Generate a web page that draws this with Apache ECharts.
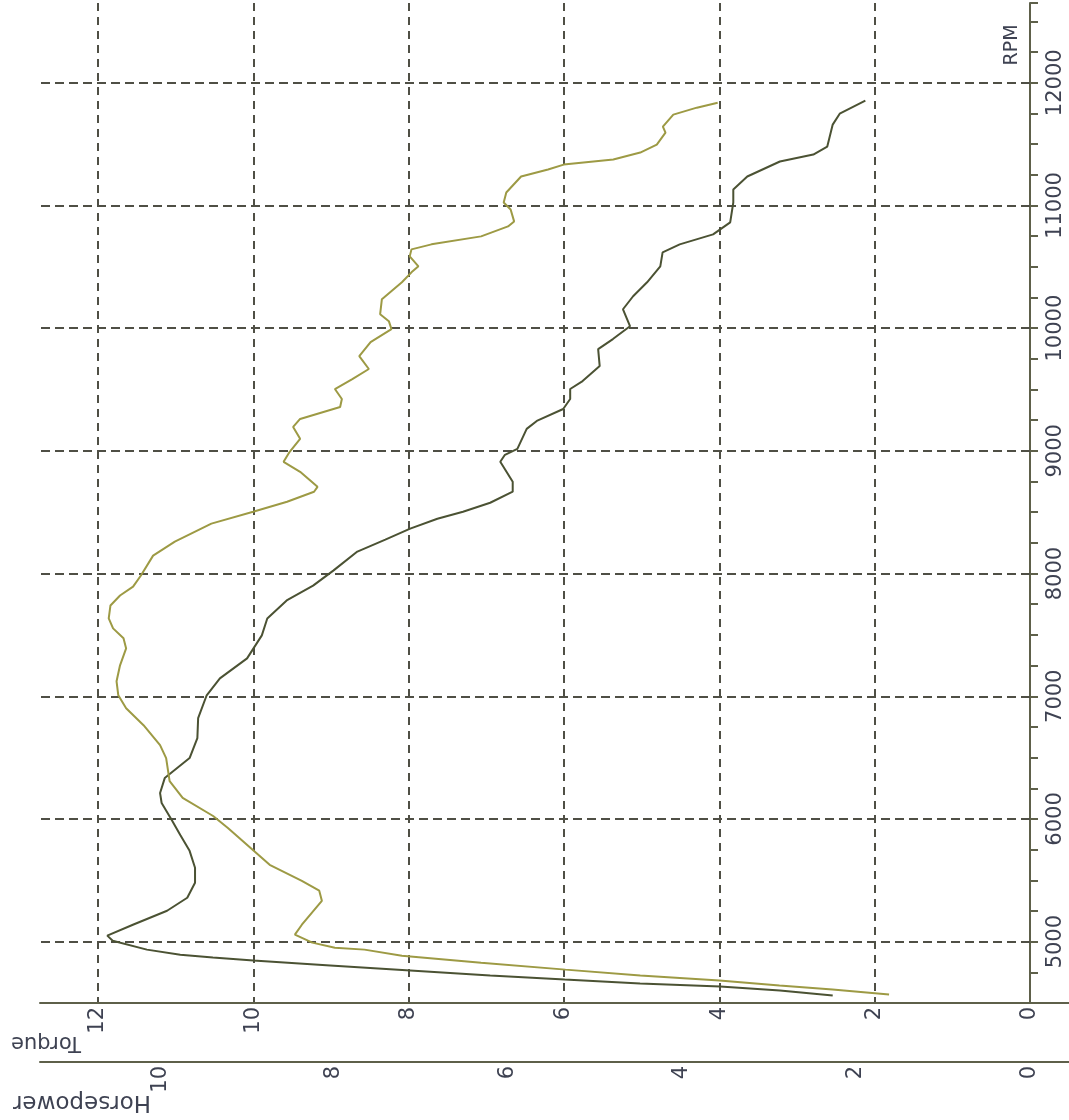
<!DOCTYPE html>
<html>
<head>
<meta charset="utf-8">
<script src="https://cdn.jsdelivr.net/npm/echarts@6/dist/echarts.min.js"></script>
<style>
html,body{margin:0;padding:0;background:#fff;}
#chart{width:1069px;height:1120px;}
</style>
</head>
<body>
<div id="chart"></div>
<script>
// ---- Data (read from the dyno sheet) ----
// Torque curve: [rpm, torque]
const torqueRpm = [4561,4602,4634,4659,4691,4724,4764,4805,4846,4870,4894,4935,5008,5049,
  5138,5252,5358,5480,5602,5740,5870,5992,6130,6211,6333,6496,6659,6821,7008,7146,7309,7496,7634,7781,7902,8024,
  8179,8276,8366,8447,8504,8577,8667,8748,8911,8968,9016,9179,9244,9341,9423,9504,9569,9691,9829,9911,10016,
  10154,10260,10374,10504,10618,10683,10764,10862,11024,11130,11236,11358,11415,11480,11659,11748,11854];
const torqueVal = [2.54,3.22,3.99,5.02,5.99,6.95,7.98,9.01,10.00,10.52,10.94,11.37,11.81,11.88,
  11.55,11.11,10.85,10.75,10.75,10.82,10.94,11.05,11.18,11.20,11.14,10.82,10.72,10.71,10.60,10.43,10.08,9.89,9.82,9.57,9.23,8.97,
  8.66,8.30,7.98,7.63,7.30,6.95,6.66,6.66,6.82,6.76,6.60,6.48,6.35,6.01,5.92,5.92,5.76,5.54,5.56,5.37,5.15,
  5.24,5.11,4.93,4.76,4.73,4.51,4.08,3.86,3.82,3.82,3.64,3.22,2.79,2.61,2.54,2.45,2.12];

// Horsepower curve: [rpm, hp]
const hpRpm = [4569,4610,4642,4683,4724,4772,4829,4886,4935,4951,4992,5057,5138,5333,5415,5496,5626,5927,6024,6171,
  6309,6496,6602,6764,6902,7008,7122,7252,7390,7472,7553,7634,7740,7821,7894,7984,8146,8260,8407,8504,8585,8667,
  8707,8829,8911,8992,9098,9195,9260,9358,9423,9504,9585,9667,9772,9886,9992,10057,10114,10236,10374,10455,10504,
  10585,10642,10683,10748,10829,10870,10967,11024,11106,11236,11293,11333,11374,11431,11496,11593,11642,11740,11797,11837];
const hpVal = [1.62,2.27,2.88,3.57,4.48,5.34,6.31,7.22,7.65,7.99,8.25,8.45,8.37,8.14,8.17,8.37,8.74,9.22,9.39,9.74,
  9.89,9.93,10.00,10.19,10.39,10.48,10.50,10.46,10.39,10.42,10.54,10.59,10.57,10.46,10.31,10.22,10.08,9.83,9.41,8.93,8.54,8.23,
  8.19,8.39,8.58,8.51,8.39,8.47,8.39,7.93,7.91,7.99,7.79,7.60,7.71,7.58,7.34,7.37,7.47,7.45,7.22,7.11,7.03,
  7.13,7.11,6.88,6.31,6.00,5.93,5.97,6.05,6.02,5.85,5.54,5.36,4.79,4.48,4.29,4.19,4.22,4.10,3.83,3.59];

// Axis ticks
const rpmGridLines = [5000,6000,7000,8000,9000,10000,11000,12000];
const rpmMin = 4500, rpmMax = 12650, rpmMinorStep = 250;
const torqueMax = 12.746, torqueStep = 2;
const hpMax = 11.38, hpStep = 2;

// ---- Chart ----
const gridColor = '#4f4f45';
const axisColor = '#5e604a';
const textColor = '#3e4252';
const darkCurve = '#4b5233';
const lightCurve = '#9d9a44';
const FONT = 'DejaVu Sans';

const intLabel = v => (Math.abs(v - Math.round(v)) < 1e-6 ? String(Math.round(v)) : '');

const chart = echarts.init(document.getElementById('chart'), null, {renderer:'canvas'});
chart.setOption({
  animation: false,
  backgroundColor: '#ffffff',
  grid: {left: 40, right: 39, top: 3, bottom: 117, containLabel: false},
  xAxis: [
    {
      type: 'value', inverse: true, min: 0, max: torqueMax, interval: torqueStep,
      position: 'bottom',
      axisLine: {show: true, onZero: false, lineStyle: {color: axisColor, width: 2}},
      axisTick: {show: false},
      axisLabel: {rotate: 90, margin: 4, color: textColor, fontFamily: FONT, fontSize: 21,
        formatter: intLabel, showMaxLabel: false},
      splitLine: {show: true, showMaxLine: false,
        lineStyle: {color: gridColor, type: [8, 6], width: 2}}
    },
    {
      type: 'value', inverse: true, min: 0, max: hpMax, interval: hpStep,
      position: 'bottom', offset: 59,
      axisLine: {show: true, onZero: false, lineStyle: {color: axisColor, width: 2}},
      axisTick: {show: false},
      axisLabel: {rotate: 90, margin: 4, color: textColor, fontFamily: FONT, fontSize: 21,
        formatter: intLabel, showMaxLabel: false},
      splitLine: {show: false}
    }
  ],
  yAxis: [
    {
      type: 'value', min: rpmMin, max: rpmMax, interval: rpmMinorStep,
      position: 'right',
      axisLine: {show: true, onZero: false, lineStyle: {color: axisColor, width: 2}},
      axisTick: {show: true, inside: false, length: 8, lineStyle: {color: axisColor, width: 2}},
      axisLabel: {rotate: 90, margin: 15, color: textColor, fontFamily: FONT, fontSize: 21,
        formatter: v => (v % 1000 === 0 ? String(v) : '')},
      splitLine: {show: false}
    }
  ],
  graphic: [
    {type: 'line', shape: {x1: 1030, y1: 1003, x2: 1069, y2: 1003}, style: {stroke: axisColor, lineWidth: 2}},
    {type: 'line', shape: {x1: 1030, y1: 1062, x2: 1069, y2: 1062}, style: {stroke: axisColor, lineWidth: 2}},
    {type: 'text', x: 46, y: 1042, rotation: Math.PI,
      style: {text: 'Torque', fill: textColor, font: '21px "DejaVu Sans"', align: 'center', verticalAlign: 'middle'}},
    {type: 'text', x: 82, y: 1102, rotation: Math.PI,
      style: {text: 'Horsepower', fill: textColor, font: '23px "DejaVu Sans"', align: 'center', verticalAlign: 'middle'}},
    {type: 'text', x: 1012, y: 45, rotation: Math.PI / 2,
      style: {text: 'RPM', fill: textColor, font: '19px "DejaVu Sans"', align: 'center', verticalAlign: 'middle'}}
  ],
  series: [
    {
      name: 'Torque', type: 'line', xAxisIndex: 0, yAxisIndex: 0,
      data: torqueRpm.map((r, i) => [torqueVal[i], r]),
      showSymbol: false, symbol: 'none',
      lineStyle: {color: darkCurve, width: 2},
      z: 5,
      markLine: {
        silent: true, symbol: ['none', 'none'], label: {show: false},
        lineStyle: {color: gridColor, type: [9, 5], width: 2},
        data: rpmGridLines.map(v => ({yAxis: v}))
      }
    },
    {
      name: 'Horsepower', type: 'line', xAxisIndex: 1, yAxisIndex: 0,
      data: hpRpm.map((r, i) => [hpVal[i], r]),
      showSymbol: false, symbol: 'none',
      lineStyle: {color: lightCurve, width: 2},
      z: 5
    }
  ]
});
</script>
</body>
</html>
